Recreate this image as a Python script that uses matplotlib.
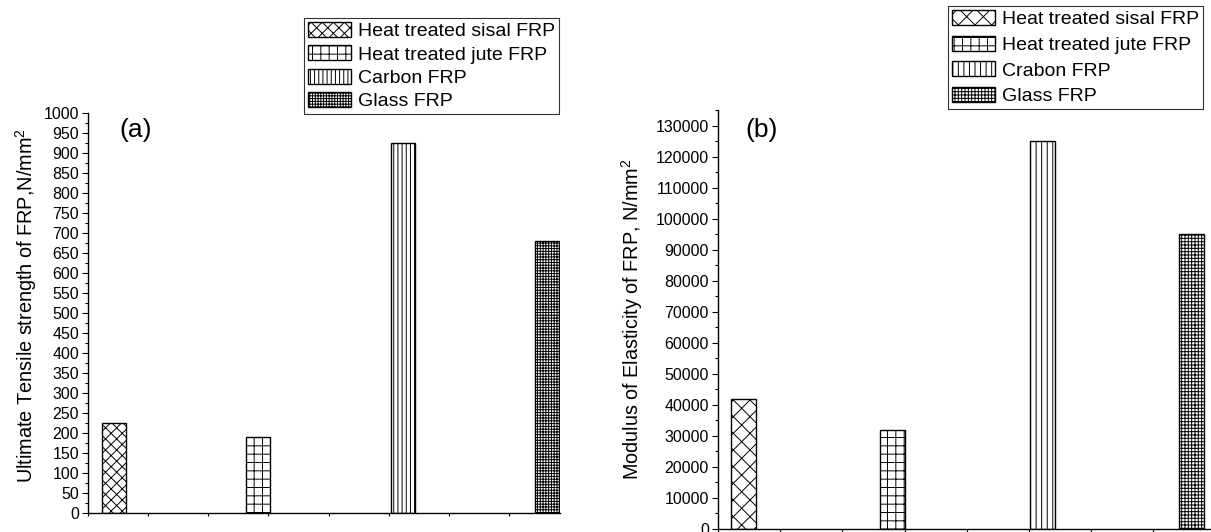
import numpy as np
import matplotlib
matplotlib.use("Agg")
import matplotlib.pyplot as plt
from matplotlib.ticker import MultipleLocator, NullFormatter

plt.rcParams['font.family'] = ['Liberation Sans', 'DejaVu Sans']
plt.rcParams['mathtext.fontset'] = 'custom'
plt.rcParams['mathtext.rm'] = 'Liberation Sans'
plt.rcParams['hatch.linewidth'] = 0.7

# data
labels_a = ['Heat treated sisal FRP', 'Heat treated jute FRP', 'Carbon FRP', 'Glass FRP']
labels_b = ['Heat treated sisal FRP', 'Heat treated jute FRP', 'Crabon FRP', 'Glass FRP']
tensile = [225, 190, 925, 680]          # N/mm^2
modulus = [42000, 32000, 125000, 95000]  # N/mm^2

hatches_a = ['xxx', '++', '||||', '++++++']
hatches_b = ['xx', '++', '|||', '+++++']

W, H = 1211, 532
fig = plt.figure(figsize=(W / 100, H / 100), dpi=100)


def px_box(l, t, r, b):
    return [l / W, 1 - b / H, (r - l) / W, (b - t) / H]


def draw_panel(ax, values, labels, hatches, xlim, ylim, major, minor, tag, tag_xy,
               ylabel, ylabel_xy, legend_xy, legend_gap):
    pos = np.arange(1, len(values) + 1)
    for p, v, lab, h in zip(pos, values, labels, hatches):
        ax.bar(p, v, width=0.167, color='white', edgecolor='black',
               linewidth=1.0, hatch=h, label=lab)

    ax.set_xlim(*xlim)
    ax.set_ylim(*ylim)
    for side in ['top', 'right']:
        ax.spines[side].set_visible(False)
    for side in ['left', 'bottom']:
        ax.spines[side].set_linewidth(1.0)

    ax.set_xticks(np.arange(xlim[0], xlim[1], 1 / 2.4))
    ax.xaxis.set_major_formatter(NullFormatter())
    ax.tick_params(axis='x', direction='out', length=2.5, width=0.8)

    ax.yaxis.set_major_locator(MultipleLocator(major))
    ax.yaxis.set_minor_locator(MultipleLocator(minor))
    ax.tick_params(axis='y', which='major', direction='out', length=4.5,
                   width=0.8, labelsize=11.5, pad=2)
    ax.tick_params(axis='y', which='minor', direction='out', length=2.5, width=0.8)

    ax.text(tag_xy[0] / W, 1 - tag_xy[1] / H, tag, transform=fig.transFigure,
            fontsize=19, ha='center', va='center')
    fig.text(ylabel_xy[0] / W, 1 - ylabel_xy[1] / H, ylabel, rotation=90,
             fontsize=14.3, ha='center', va='center')

    leg = ax.legend(loc='upper right', bbox_to_anchor=(legend_xy[0] / W, 1 - legend_xy[1] / H),
                    bbox_transform=fig.transFigure, fontsize=14, frameon=True,
                    fancybox=False, edgecolor='#333333', framealpha=1, borderpad=0.2,
                    handlelength=2.2, handleheight=0.82, handletextpad=0.36,
                    labelspacing=legend_gap, borderaxespad=0)
    leg.get_frame().set_linewidth(0.8)


ax_a = fig.add_axes(px_box(88, 113, 560, 513))
draw_panel(ax_a, tensile, labels_a, hatches_a, (0.82, 4.09), (0, 1000), 50, 25,
           '(a)', (136, 130), 'Ultimate Tensile strength of FRP,N/mm$^2$', (26, 305),
           (559, 18), 0.26)

ax_b = fig.add_axes(px_box(718, 110, 1211, 529))
draw_panel(ax_b, modulus, labels_b, hatches_b, (0.829, 4.131), (0, 135000), 10000, 5000,
           '(b)', (762, 130), 'Modulus of Elasticity of FRP, N/mm$^2$', (632, 319),
           (1203, 6), 0.38)

fig.savefig('out.png', dpi=100)
